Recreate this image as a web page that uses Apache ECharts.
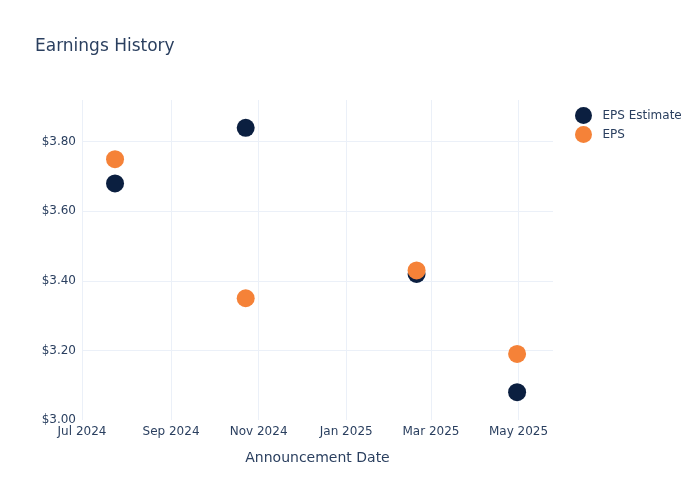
<!DOCTYPE html>
<html>
<head>
<meta charset="utf-8">
<script src="https://cdn.jsdelivr.net/npm/echarts@6/dist/echarts.min.js"></script>
<style>
  html, body { margin: 0; padding: 0; background: #fff; }
  #chart-container { width: 700px; height: 500px; }
</style>
</head>
<body>
<div id="chart-container"></div>
<script>
// announcement dates and values
const dates = ['2024-07-24', '2024-10-23', '2025-02-19', '2025-04-30'];
const epsEstimate = [3.68, 3.84, 3.42, 3.08];
const eps = [3.75, 3.35, 3.43, 3.19];
const xTicks = ['2024-07-01', '2024-09-01', '2024-11-01', '2025-01-01', '2025-03-01', '2025-05-01'];
const yTicks = [3.0, 3.2, 3.4, 3.6, 3.8];

const months = ['Jan','Feb','Mar','Apr','May','Jun','Jul','Aug','Sep','Oct','Nov','Dec'];
const ts = d => new Date(d + 'T00:00:00Z').getTime();
const textColor = '#2a3f5f';
const gridColor = '#ebf0f8';

const myChart = echarts.init(document.getElementById('chart-container'));
const option = {
    animation: false,
    textStyle: { fontFamily: '"DejaVu Sans", sans-serif' },
    title: {
        text: 'Earnings History',
        left: 30,
        top: 33,
        textStyle: { color: textColor, fontSize: 17, fontWeight: 'normal' }
    },
    legend: {
        orient: 'vertical',
        left: 570,
        top: 102,
        itemWidth: 28,
        itemHeight: 17,
        itemGap: 2,
        icon: 'circle',
        textStyle: { color: textColor, fontSize: 12 },
        data: ['EPS Estimate', 'EPS']
    },
    grid: { left: 82, right: 147, top: 100, bottom: 80, containLabel: false },
    xAxis: {
        type: 'value',
        min: ts('2024-07-01'),
        max: ts('2025-05-25'),
        name: 'Announcement Date',
        nameLocation: 'middle',
        nameGap: 31,
        nameTextStyle: { color: textColor, fontSize: 14 },
        axisLine: { show: false },
        axisTick: { show: false, customValues: xTicks.map(ts) },
        axisLabel: {
            customValues: xTicks.map(ts),
            color: textColor,
            fontSize: 12,
            margin: 6,
            formatter: v => {
                const d = new Date(v);
                return months[d.getUTCMonth()] + ' ' + d.getUTCFullYear();
            }
        },
        splitLine: { show: true, lineStyle: { color: gridColor, width: 1 } }
    },
    yAxis: {
        type: 'value',
        min: 3.0,
        max: 3.92,
        axisLine: { show: false },
        axisTick: { show: false, customValues: yTicks },
        axisLabel: {
            customValues: yTicks,
            color: textColor,
            fontSize: 12,
            margin: 6,
            formatter: v => '$' + v.toFixed(2)
        },
        splitLine: {
            show: true,
            lineStyle: { color: ['transparent', gridColor, gridColor, gridColor, gridColor], width: 1 }
        }
    },
    series: [
        {
            name: 'EPS Estimate',
            type: 'scatter',
            symbolSize: 18,
            itemStyle: { color: '#0b1f40', opacity: 1 },
            data: dates.map((d, i) => [ts(d), epsEstimate[i]])
        },
        {
            name: 'EPS',
            type: 'scatter',
            symbolSize: 18,
            itemStyle: { color: '#f58238', opacity: 1 },
            data: dates.map((d, i) => [ts(d), eps[i]])
        }
    ]
};

option && myChart.setOption(option);
</script>
</body>
</html>
